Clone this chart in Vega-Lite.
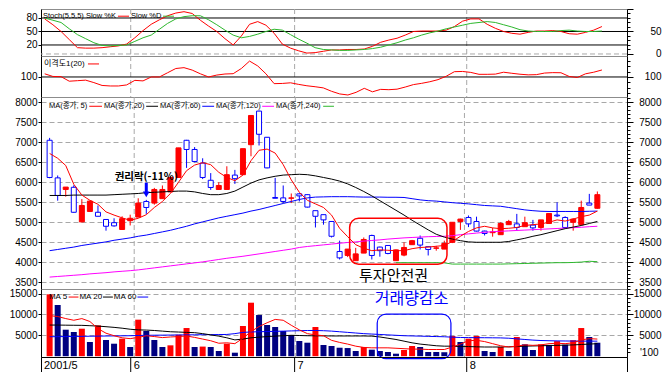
{
"$schema": "https://vega.github.io/schema/vega-lite/v6.json",
"autosize": {"type": "pad"},
"padding": {"left": 0, "top": 3, "right": 0, "bottom": 0},
"spacing": 0,
"bounds": "flush",
"background": "#ffffff",
"config": {
  "view": {"stroke": "#8c8c8c", "strokeWidth": 1},
  "axis": {"labelFont": "Liberation Sans", "labelFontSize": 10, "labelColor": "#000000", "domainColor": "#000000", "tickColor": "#000000", "title": null, "grid": false, "labelOverlap": false, "labelFlush": false, "minExtent": 40, "maxExtent": 40},
  "text": {"font": "Liberation Sans, Noto Sans CJK KR", "fontSize": 8, "color": "#000000"},
  "line": {"strokeWidth": 1},
  "rule": {"strokeWidth": 1}
},
"datasets": {
  "months": [{"i": 10.5, "lab": "6"}, {"i": 30.5, "lab": "7"}, {"i": 51.5, "lab": "8"}],
  "xlab": [{"i": -0.45, "lab": "2001/5"}, {"i": 10.5, "lab": "6"}, {"i": 30.5, "lab": "7"}, {"i": 51.5, "lab": "8"}],
  "d": [
{"i":0,"date":"2001-05-17","o":7050,"h":7110,"l":6100,"c":6120,"m5":6720,"m20":5670,"m60":4290,"m120":3630,"v":14800,"vd":"up","vm5":9700,"vm20":7450,"vm60":4650,"k":78,"dd":80,"dp":103},
{"i":1,"date":"2001-05-18","o":6110,"h":6170,"l":5540,"c":5670,"m5":6600,"m20":5670,"m60":4320,"m120":3645,"v":12250,"vd":"down","vm5":9500,"vm20":7450,"vm60":4680,"k":65,"dd":75,"dp":100.5},
{"i":2,"date":"2001-05-21","o":5820,"h":5880,"l":5640,"c":5880,"m5":6420,"m20":5670,"m60":4350,"m120":3660,"v":6340,"vd":"down","vm5":9000,"vm20":7420,"vm60":4700,"k":50,"dd":70,"dp":100.3},
{"i":3,"date":"2001-05-22","o":5875,"h":5925,"l":5240,"c":5250,"m5":5950,"m20":5680,"m60":4380,"m120":3675,"v":5790,"vd":"down","vm5":8600,"vm20":7400,"vm60":4730,"k":32,"dd":56,"dp":96},
{"i":4,"date":"2001-05-23","o":5010,"h":5580,"l":5000,"c":5420,"m5":5680,"m20":5680,"m60":4420,"m120":3690,"v":6580,"vd":"up","vm5":9000,"vm20":7380,"vm60":4750,"k":14,"dd":43,"dp":96.5},
{"i":5,"date":"2001-05-24","o":5270,"h":5540,"l":5260,"c":5530,"m5":5550,"m20":5680,"m60":4450,"m120":3710,"v":3400,"vd":"down","vm5":8300,"vm20":7300,"vm60":4780,"k":13,"dd":34,"dp":97},
{"i":6,"date":"2001-05-25","o":5250,"h":5420,"l":5150,"c":5150,"m5":5450,"m20":5680,"m60":4480,"m120":3725,"v":7380,"vd":"up","vm5":6600,"vm20":7200,"vm60":4800,"k":13,"dd":25,"dp":94.7},
{"i":7,"date":"2001-05-28","o":5070,"h":5070,"l":4790,"c":4900,"m5":5260,"m20":5680,"m60":4510,"m120":3740,"v":3870,"vd":"down","vm5":5500,"vm20":7060,"vm60":4830,"k":14,"dd":19,"dp":92},
{"i":8,"date":"2001-05-29","o":4990,"h":5100,"l":4890,"c":4910,"m5":5180,"m20":5690,"m60":4550,"m120":3760,"v":2990,"vd":"down","vm5":4900,"vm20":6900,"vm60":4850,"k":16,"dd":18,"dp":91.5},
{"i":9,"date":"2001-05-30","o":4820,"h":5150,"l":4810,"c":5090,"m5":5110,"m20":5700,"m60":4580,"m120":3775,"v":4190,"vd":"up","vm5":4400,"vm20":6700,"vm60":4880,"k":18,"dd":19,"dp":91.5},
{"i":10,"date":"2001-05-31","o":5040,"h":5190,"l":4920,"c":5100,"m5":5050,"m20":5710,"m60":4610,"m120":3790,"v":2200,"vd":"down","vm5":4200,"vm20":6450,"vm60":4900,"k":22,"dd":20,"dp":92.5},
{"i":11,"date":"2001-06-01","o":5130,"h":5600,"l":5130,"c":5480,"m5":5100,"m20":5720,"m60":4650,"m120":3810,"v":8740,"vd":"up","vm5":4500,"vm20":6300,"vm60":4950,"k":36,"dd":28,"dp":96.8},
{"i":12,"date":"2001-06-04","o":5520,"h":5560,"l":5210,"c":5370,"m5":5190,"m20":5740,"m60":4680,"m120":3835,"v":6030,"vd":"down","vm5":4900,"vm20":6250,"vm60":5000,"k":52,"dd":36,"dp":96.3},
{"i":13,"date":"2001-06-05","o":5480,"h":5860,"l":5440,"c":5820,"m5":5370,"m20":5750,"m60":4720,"m120":3860,"v":3870,"vd":"down","vm5":4700,"vm20":6150,"vm60":5020,"k":66,"dd":42,"dp":100},
{"i":14,"date":"2001-06-07","o":5590,"h":5920,"l":5590,"c":5820,"m5":5520,"m20":5760,"m60":4760,"m120":3885,"v":2200,"vd":"down","vm5":4450,"vm20":6000,"vm60":5040,"k":76,"dd":55,"dp":100},
{"i":15,"date":"2001-06-08","o":5760,"h":6150,"l":5750,"c":6120,"m5":5720,"m20":5770,"m60":4800,"m120":3910,"v":2600,"vd":"up","vm5":4600,"vm20":5850,"vm60":5060,"k":85,"dd":68,"dp":104},
{"i":16,"date":"2001-06-11","o":6120,"h":6860,"l":6120,"c":6860,"m5":6000,"m20":5780,"m60":4850,"m120":3935,"v":5140,"vd":"up","vm5":4700,"vm20":5780,"vm60":5080,"k":91,"dd":78,"dp":108},
{"i":17,"date":"2001-06-12","o":7050,"h":7060,"l":6360,"c":6820,"m5":6290,"m20":5780,"m60":4900,"m120":3960,"v":6740,"vd":"up","vm5":4840,"vm20":5700,"vm60":5100,"k":94,"dd":83,"dp":108.8},
{"i":18,"date":"2001-06-13","o":6820,"h":6880,"l":6500,"c":6520,"m5":6430,"m20":5760,"m60":4960,"m120":3985,"v":2200,"vd":"down","vm5":4500,"vm20":5630,"vm60":5120,"k":90,"dd":85,"dp":106.5},
{"i":19,"date":"2001-06-14","o":6480,"h":6600,"l":6080,"c":6120,"m5":6490,"m20":5720,"m60":5010,"m120":4010,"v":2300,"vd":"up","vm5":4100,"vm20":5400,"vm60":5140,"k":75,"dd":85,"dp":103},
{"i":20,"date":"2001-06-15","o":6050,"h":6230,"l":5810,"c":5870,"m5":6440,"m20":5690,"m60":5060,"m120":4040,"v":2200,"vd":"down","vm5":3700,"vm20":5100,"vm60":5160,"k":62,"dd":76,"dp":100},
{"i":21,"date":"2001-06-18","o":5820,"h":6000,"l":5820,"c":5920,"m5":6250,"m20":5690,"m60":5110,"m120":4070,"v":1240,"vd":"down","vm5":3100,"vm20":4800,"vm60":5180,"k":50,"dd":65,"dp":101.8},
{"i":22,"date":"2001-06-19","o":5820,"h":6400,"l":5820,"c":6190,"m5":6120,"m20":5720,"m60":5150,"m120":4100,"v":2990,"vd":"up","vm5":3200,"vm20":4400,"vm60":5200,"k":34,"dd":53,"dp":102.8},
{"i":23,"date":"2001-06-20","o":6180,"h":6310,"l":5960,"c":6090,"m5":6040,"m20":5780,"m60":5190,"m120":4125,"v":840,"vd":"down","vm5":3000,"vm20":3900,"vm60":5400,"k":20,"dd":42,"dp":103.1},
{"i":24,"date":"2001-06-21","o":6190,"h":6840,"l":6190,"c":6840,"m5":6180,"m20":5880,"m60":5230,"m120":4150,"v":7220,"vd":"up","vm5":4300,"vm20":4100,"vm60":5700,"k":40,"dd":36,"dp":108},
{"i":25,"date":"2001-06-22","o":6940,"h":7670,"l":6650,"c":7670,"m5":6540,"m20":5980,"m60":5280,"m120":4180,"v":12800,"vd":"up","vm5":5900,"vm20":4400,"vm60":5800,"k":66,"dd":39,"dp":115},
{"i":26,"date":"2001-06-25","o":7780,"h":7790,"l":6920,"c":7200,"m5":6800,"m20":6060,"m60":5320,"m120":4210,"v":9850,"vd":"down","vm5":7100,"vm20":4550,"vm60":5850,"k":72,"dd":44,"dp":110.4},
{"i":27,"date":"2001-06-26","o":7125,"h":7130,"l":6350,"c":6360,"m5":6830,"m20":6110,"m60":5370,"m120":4240,"v":7460,"vd":"down","vm5":8000,"vm20":4700,"vm60":5900,"k":64,"dd":50,"dp":103},
{"i":28,"date":"2001-06-27","o":5620,"h":6110,"l":5600,"c":5600,"m5":6730,"m20":6150,"m60":5420,"m120":4270,"v":6980,"vd":"down","vm5":8800,"vm20":4800,"vm60":5950,"k":46,"dd":55,"dp":93.7},
{"i":29,"date":"2001-06-28","o":5610,"h":5920,"l":5480,"c":5520,"m5":6440,"m20":6180,"m60":5470,"m120":4300,"v":6030,"vd":"down","vm5":8600,"vm20":4900,"vm60":6000,"k":22,"dd":53,"dp":93.9},
{"i":30,"date":"2001-06-29","o":5600,"h":5720,"l":5480,"c":5610,"m5":6060,"m20":6190,"m60":5520,"m120":4330,"v":5070,"vd":"down","vm5":7400,"vm20":5000,"vm60":6050,"k":13,"dd":43,"dp":94.5},
{"i":31,"date":"2001-07-02","o":5710,"h":5730,"l":5520,"c":5660,"m5":5750,"m20":6200,"m60":5570,"m120":4370,"v":3640,"vd":"down","vm5":6300,"vm20":4950,"vm60":6100,"k":7,"dd":33,"dp":93},
{"i":32,"date":"2001-07-03","o":5690,"h":5700,"l":5370,"c":5380,"m5":5550,"m20":6190,"m60":5610,"m120":4395,"v":3230,"vd":"down","vm5":5400,"vm20":4900,"vm60":6150,"k":2,"dd":24,"dp":91.7},
{"i":33,"date":"2001-07-04","o":5290,"h":5290,"l":4870,"c":5150,"m5":5460,"m20":6160,"m60":5630,"m120":4415,"v":6980,"vd":"up","vm5":5100,"vm20":4880,"vm60":6150,"k":3,"dd":14,"dp":90.8},
{"i":34,"date":"2001-07-05","o":5190,"h":5190,"l":4940,"c":5060,"m5":5370,"m20":6120,"m60":5635,"m120":4435,"v":2680,"vd":"down","vm5":4900,"vm20":4860,"vm60":6100,"k":6,"dd":10,"dp":89.7},
{"i":35,"date":"2001-07-06","o":5020,"h":5020,"l":4620,"c":4650,"m5":5180,"m20":6080,"m60":5640,"m120":4455,"v":2440,"vd":"down","vm5":3800,"vm20":4840,"vm60":6000,"k":9,"dd":9,"dp":86.5},
{"i":36,"date":"2001-07-09","o":4270,"h":4540,"l":4070,"c":4110,"m5":4850,"m20":6030,"m60":5640,"m120":4475,"v":2030,"vd":"down","vm5":3300,"vm20":4840,"vm60":5850,"k":9,"dd":8,"dp":84},
{"i":37,"date":"2001-07-10","o":4170,"h":4330,"l":4130,"c":4330,"m5":4640,"m20":5960,"m60":5640,"m120":4495,"v":1950,"vd":"down","vm5":2900,"vm20":4840,"vm60":5700,"k":10,"dd":8,"dp":83},
{"i":38,"date":"2001-07-11","o":4040,"h":4360,"l":4040,"c":4210,"m5":4440,"m20":5870,"m60":5635,"m120":4510,"v":1240,"vd":"down","vm5":2400,"vm20":4840,"vm60":5550,"k":10,"dd":9,"dp":85.5},
{"i":39,"date":"2001-07-12","o":4230,"h":4620,"l":4230,"c":4570,"m5":4350,"m20":5770,"m60":5630,"m120":4530,"v":2200,"vd":"up","vm5":2100,"vm20":4840,"vm60":5400,"k":11,"dd":10,"dp":89.3},
{"i":40,"date":"2001-07-13","o":4670,"h":4690,"l":4070,"c":4170,"m5":4290,"m20":5660,"m60":5630,"m120":4545,"v":1560,"vd":"down","vm5":2000,"vm20":4800,"vm60":5300,"k":17,"dd":12,"dp":86},
{"i":41,"date":"2001-07-16","o":4380,"h":4390,"l":4140,"c":4290,"m5":4310,"m20":5540,"m60":5630,"m120":4560,"v":1240,"vd":"down","vm5":2000,"vm20":4600,"vm60":5200,"k":26,"dd":15,"dp":88.3},
{"i":42,"date":"2001-07-18","o":4420,"h":4420,"l":4200,"c":4220,"m5":4300,"m20":5420,"m60":5625,"m120":4580,"v":1000,"vd":"down","vm5":2000,"vm20":4300,"vm60":5100,"k":31,"dd":20,"dp":88},
{"i":43,"date":"2001-07-19","o":4040,"h":4320,"l":4040,"c":4310,"m5":4290,"m20":5300,"m60":5625,"m120":4595,"m240":3990,"v":600,"vd":"down","vm5":1900,"vm20":4000,"vm60":5000,"k":35,"dd":25,"dp":88.5},
{"i":44,"date":"2001-07-20","o":4180,"h":4500,"l":4150,"c":4370,"m5":4290,"m20":5180,"m60":5620,"m120":4610,"m240":3990,"v":1480,"vd":"up","vm5":1800,"vm20":3600,"vm60":4900,"k":42,"dd":31,"dp":90.5},
{"i":45,"date":"2001-07-23","o":4440,"h":4560,"l":4440,"c":4540,"m5":4340,"m20":5050,"m60":5590,"m120":4620,"m240":3990,"v":2440,"vd":"up","vm5":1700,"vm20":3200,"vm60":4850,"k":50,"dd":36,"dp":92.8},
{"i":46,"date":"2001-07-24","o":4600,"h":4670,"l":4320,"c":4430,"m5":4370,"m20":4930,"m60":5560,"m120":4630,"m240":3990,"v":2200,"vd":"down","vm5":1700,"vm20":2900,"vm60":4800,"k":51,"dd":42,"dp":94},
{"i":47,"date":"2001-07-25","o":4390,"h":4390,"l":4170,"c":4320,"m5":4380,"m20":4810,"m60":5540,"m120":4640,"m240":3990,"v":1000,"vd":"down","vm5":1600,"vm20":2700,"vm60":4750,"k":51,"dd":47,"dp":95.5},
{"i":48,"date":"2001-07-26","o":4350,"h":4410,"l":4290,"c":4360,"m5":4400,"m20":4700,"m60":5530,"m120":4645,"m240":3990,"v":1000,"vd":"down","vm5":1600,"vm20":2500,"vm60":4700,"k":51,"dd":51,"dp":97.5},
{"i":49,"date":"2001-07-27","o":4330,"h":4540,"l":4330,"c":4470,"m5":4420,"m20":4630,"m60":5510,"m120":4650,"m240":3985,"v":950,"vd":"down","vm5":1600,"vm20":2400,"vm60":4650,"k":53,"dd":56,"dp":100.7},
{"i":50,"date":"2001-07-30","o":4500,"h":5000,"l":4480,"c":5000,"m5":4520,"m20":4580,"m60":5490,"m120":4665,"m240":3955,"v":4830,"vd":"up","vm5":2200,"vm20":2400,"vm60":4550,"k":61,"dd":60,"dp":105},
{"i":51,"date":"2001-07-31","o":5020,"h":5090,"l":4810,"c":5080,"m5":4650,"m20":4540,"m60":5475,"m120":4690,"m240":3955,"v":3400,"vd":"down","vm5":2900,"vm20":2300,"vm60":4480,"k":73,"dd":64,"dp":105.2},
{"i":52,"date":"2001-08-01","o":5120,"h":5170,"l":4880,"c":4960,"m5":4770,"m20":4510,"m60":5460,"m120":4710,"m240":3955,"v":4190,"vd":"up","vm5":3700,"vm20":2300,"vm60":4450,"k":78,"dd":68,"dp":104.3},
{"i":53,"date":"2001-08-02","o":5020,"h":5140,"l":4770,"c":4780,"m5":4860,"m20":4500,"m60":5440,"m120":4730,"m240":3955,"v":4830,"vd":"up","vm5":3800,"vm20":2250,"vm60":4430,"k":78,"dd":70,"dp":102.5},
{"i":54,"date":"2001-08-03","o":4780,"h":4790,"l":4670,"c":4720,"m5":4900,"m20":4500,"m60":5420,"m120":4750,"m240":3955,"v":1240,"vd":"down","vm5":3500,"vm20":2200,"vm60":4420,"k":66,"dd":72,"dp":102.5},
{"i":55,"date":"2001-08-06","o":4740,"h":4860,"l":4640,"c":4760,"m5":4860,"m20":4500,"m60":5410,"m120":4765,"m240":3955,"v":1000,"vd":"down","vm5":3000,"vm20":2200,"vm60":4400,"k":57,"dd":70,"dp":102.7},
{"i":56,"date":"2001-08-07","o":4690,"h":5000,"l":4690,"c":4970,"m5":4840,"m20":4500,"m60":5400,"m120":4775,"m240":3955,"v":2200,"vd":"up","vm5":2500,"vm20":2200,"vm60":4380,"k":50,"dd":65,"dp":104.5},
{"i":57,"date":"2001-08-08","o":4940,"h":5060,"l":4940,"c":5020,"m5":4850,"m20":4520,"m60":5370,"m120":4785,"m240":3960,"v":1240,"vd":"down","vm5":2200,"vm20":2250,"vm60":4300,"k":46,"dd":60,"dp":103.5},
{"i":58,"date":"2001-08-09","o":4960,"h":5210,"l":4790,"c":4870,"m5":4870,"m20":4560,"m60":5340,"m120":4795,"m240":3965,"v":4590,"vd":"up","vm5":2400,"vm20":2300,"vm60":4150,"k":44,"dd":54,"dp":102.6},
{"i":59,"date":"2001-08-10","o":4890,"h":5140,"l":4890,"c":4990,"m5":4920,"m20":4600,"m60":5310,"m120":4805,"m240":3970,"v":2840,"vd":"down","vm5":2700,"vm20":2400,"vm60":4000,"k":48,"dd":51,"dp":102},
{"i":60,"date":"2001-08-13","o":4930,"h":5060,"l":4790,"c":4860,"m5":4940,"m20":4650,"m60":5290,"m120":4815,"m240":3975,"v":1480,"vd":"down","vm5":2600,"vm20":2450,"vm60":3850,"k":51,"dd":50,"dp":102.2},
{"i":61,"date":"2001-08-14","o":4870,"h":5060,"l":4790,"c":5060,"m5":4960,"m20":4690,"m60":5275,"m120":4825,"m240":3980,"v":2840,"vd":"up","vm5":2700,"vm20":2500,"vm60":3750,"k":51,"dd":50,"dp":103.7},
{"i":62,"date":"2001-08-16","o":4970,"h":5230,"l":4970,"c":5220,"m5":5000,"m20":4740,"m60":5270,"m120":4835,"m240":3985,"v":2700,"vd":"down","vm5":3000,"vm20":2550,"vm60":3700,"k":52,"dd":50,"dp":104.1},
{"i":63,"date":"2001-08-17","o":5180,"h":5500,"l":5130,"c":5160,"m5":5060,"m20":4790,"m60":5270,"m120":4845,"m240":3990,"v":3600,"vd":"up","vm5":3100,"vm20":2600,"vm60":3660,"k":50,"dd":52,"dp":104},
{"i":64,"date":"2001-08-20","o":5120,"h":5150,"l":4870,"c":4870,"m5":5030,"m20":4840,"m60":5270,"m120":4855,"m240":3990,"v":2760,"vd":"down","vm5":3000,"vm20":2650,"vm60":3640,"k":45,"dd":53,"dp":100.5},
{"i":65,"date":"2001-08-21","o":5000,"h":5100,"l":4790,"c":5080,"m5":5080,"m20":4880,"m60":5270,"m120":4865,"m240":3995,"v":3830,"vd":"up","vm5":3200,"vm20":2700,"vm60":3620,"k":44,"dd":51,"dp":99.5},
{"i":66,"date":"2001-08-22","o":4940,"h":5540,"l":4920,"c":5370,"m5":5140,"m20":4920,"m60":5270,"m120":4875,"m240":4005,"v":6740,"vd":"up","vm5":3900,"vm20":2800,"vm60":3610,"k":48,"dd":50,"dp":103},
{"i":67,"date":"2001-08-23","o":5480,"h":5710,"l":5430,"c":5430,"m5":5180,"m20":4970,"m60":5275,"m120":4890,"m240":4025,"v":4590,"vd":"down","vm5":4200,"vm20":2900,"vm60":3600,"k":53,"dd":50,"dp":104.5},
{"i":68,"date":"2001-08-24","o":5350,"h":5770,"l":5340,"c":5690,"m5":5280,"m20":5020,"m60":5280,"m120":4900,"m240":4015,"v":3230,"vd":"down","vm5":4100,"vm20":3000,"vm60":3600,"k":61,"dd":51,"dp":106.6}
  ]
},
"vconcat": [
{
 "width": 586, "height": 47,
 "resolve": {"axis": {"y": "independent"}},
 "layer": [
  {"data": {"name": "months"}, "mark": {"type": "rule", "color": "#a8a8a8", "strokeDash": [5, 3]}, "encoding": {"x": {"field": "i", "type": "quantitative", "scale": {"domain": [-0.45, 71.06], "nice": false, "zero": false}, "axis": null}}},
  {"data": {"values": [{"v": 80}, {"v": 50}, {"v": 20}]}, "mark": {"type": "rule", "color": "#000000"}, "encoding": {"y": {"field": "v", "type": "quantitative", "scale": {"domain": [-4.5, 100], "nice": false, "zero": false}, "axis": null}}},
  {"data": {"values": [{"v": 0}]}, "mark": {"type": "rule", "color": "#a8a8a8", "strokeDash": [5, 3]}, "encoding": {"y": {"field": "v", "type": "quantitative", "scale": {"domain": [-4.5, 100], "nice": false, "zero": false}, "axis": null}}},
  {"data": {"name": "d"}, "mark": {"type": "line", "color": "#ff0000"}, "encoding": {"x": {"field": "i", "type": "quantitative", "scale": {"domain": [-0.45, 71.06], "nice": false, "zero": false}, "axis": null}, "y": {"field": "k", "type": "quantitative", "scale": {"domain": [-4.5, 100], "nice": false, "zero": false}, "axis": {"orient": "left", "values": [20, 50, 80], "format": "d", "tickSize": 3, "labelPadding": 1}}}},
  {"data": {"name": "d"}, "mark": {"type": "line", "color": "#2db82d"}, "encoding": {"x": {"field": "i", "type": "quantitative", "scale": {"domain": [-0.45, 71.06], "nice": false, "zero": false}, "axis": null}, "y": {"field": "dd", "type": "quantitative", "scale": {"domain": [-4.5, 100], "nice": false, "zero": false}, "axis": {"orient": "right", "values": [0, 10, 20, 30, 40, 50, 60, 70, 80, 90, 100], "format": "d", "labelExpr": "datum.value == 0 || datum.value == 50 ? datum.label : ''", "tickSize": {"condition": {"test": "datum.value % 50 == 0", "value": 6}, "value": 3}, "labelAlign": "right", "labelPadding": 28}}}},
  {"data": {"values": [{"t": "Stoch(5,5,5) Slow %K", "i": -0.21, "v": 84}, {"t": "Slow %D", "i": 10.53, "v": 84}]}, "mark": {"type": "text", "align": "left", "baseline": "middle", "fontSize": 7.5}, "encoding": {"x": {"field": "i", "type": "quantitative", "scale": {"domain": [-0.45, 71.06], "nice": false, "zero": false}, "axis": null}, "y": {"field": "v", "type": "quantitative", "scale": {"domain": [-4.5, 100], "nice": false, "zero": false}, "axis": null}, "text": {"field": "t"}}},
  {"data": {"values": [{"i": 8.94, "i2": 10.29, "v": 84}]}, "mark": {"type": "rule", "color": "#ff0000"}, "encoding": {"x": {"field": "i", "type": "quantitative", "scale": {"domain": [-0.45, 71.06], "nice": false, "zero": false}, "axis": null}, "x2": {"field": "i2"}, "y": {"field": "v", "type": "quantitative", "scale": {"domain": [-4.5, 100], "nice": false, "zero": false}, "axis": null}}},
  {"data": {"values": [{"i": 14.44, "i2": 15.78, "v": 84}]}, "mark": {"type": "rule", "color": "#2db82d"}, "encoding": {"x": {"field": "i", "type": "quantitative", "scale": {"domain": [-0.45, 71.06], "nice": false, "zero": false}, "axis": null}, "x2": {"field": "i2"}, "y": {"field": "v", "type": "quantitative", "scale": {"domain": [-4.5, 100], "nice": false, "zero": false}, "axis": null}}}
 ]
},
{
 "width": 586, "height": 41,
 "resolve": {"axis": {"y": "independent"}},
 "layer": [
  {"data": {"name": "months"}, "mark": {"type": "rule", "color": "#a8a8a8", "strokeDash": [5, 3]}, "encoding": {"x": {"field": "i", "type": "quantitative", "scale": {"domain": [-0.45, 71.06], "nice": false, "zero": false}, "axis": null}}},
  {"data": {"values": [{"v": 100}]}, "mark": {"type": "rule", "color": "#000000"}, "encoding": {"y": {"field": "v", "type": "quantitative", "scale": {"domain": [81.1, 119.8], "nice": false, "zero": false}, "axis": {"orient": "right", "values": [85, 90, 95, 100, 105, 110, 115], "format": "d", "labelExpr": "datum.value == 100 ? datum.label : ''", "tickSize": {"condition": {"test": "datum.value == 100", "value": 6}, "value": 3}, "labelAlign": "right", "labelPadding": 28}}}},
  {"data": {"name": "d"}, "mark": {"type": "line", "color": "#ff0000"}, "encoding": {"x": {"field": "i", "type": "quantitative", "scale": {"domain": [-0.45, 71.06], "nice": false, "zero": false}, "axis": null}, "y": {"field": "dp", "type": "quantitative", "scale": {"domain": [81.1, 119.8], "nice": false, "zero": false}, "axis": {"orient": "left", "values": [100], "format": "d", "tickSize": 3, "labelPadding": 1}}}},
  {"data": {"values": [{"t": "이격도1(20)", "i": -0.09, "v": 112.3}]}, "mark": {"type": "text", "align": "left", "baseline": "middle"}, "encoding": {"x": {"field": "i", "type": "quantitative", "scale": {"domain": [-0.45, 71.06], "nice": false, "zero": false}, "axis": null}, "y": {"field": "v", "type": "quantitative", "scale": {"domain": [81.1, 119.8], "nice": false, "zero": false}, "axis": null}, "text": {"field": "t"}}},
  {"data": {"values": [{"i": 5.28, "i2": 6.63, "v": 112.3}]}, "mark": {"type": "rule", "color": "#ff0000"}, "encoding": {"x": {"field": "i", "type": "quantitative", "scale": {"domain": [-0.45, 71.06], "nice": false, "zero": false}, "axis": null}, "x2": {"field": "i2"}, "y": {"field": "v", "type": "quantitative", "scale": {"domain": [81.1, 119.8], "nice": false, "zero": false}, "axis": null}}}
 ]
},
{
 "width": 586, "height": 192,
 "resolve": {"axis": {"y": "independent"}},
 "layer": [
  {"data": {"name": "months"}, "mark": {"type": "rule", "color": "#a8a8a8", "strokeDash": [5, 3]}, "encoding": {"x": {"field": "i", "type": "quantitative", "scale": {"domain": [-0.45, 71.06], "nice": false, "zero": false}, "axis": null}}},
  {"data": {"name": "d"}, "mark": {"type": "rule"}, "encoding": {"x": {"field": "i", "type": "quantitative", "scale": {"domain": [-0.45, 71.06], "nice": false, "zero": false}, "axis": null}, "y": {"field": "l", "type": "quantitative", "scale": {"domain": [3332, 8132], "nice": false, "zero": false}, "axis": {"orient": "left", "values": [3500, 4000, 4500, 5000, 5500, 6000, 6500, 7000, 7500, 8000], "format": "d", "tickSize": 3, "labelPadding": 1, "grid": true, "gridDash": [5, 3], "gridColor": "#a8a8a8"}}, "y2": {"field": "h"}, "color": {"condition": {"test": "datum.c > datum.o", "value": "#ff0000"}, "value": "#0000ff"}}},
  {"data": {"name": "d"}, "mark": {"type": "bar", "size": 5, "strokeWidth": 1}, "encoding": {"x": {"field": "i", "type": "quantitative", "scale": {"domain": [-0.45, 71.06], "nice": false, "zero": false}, "axis": null}, "y": {"field": "o", "type": "quantitative", "scale": {"domain": [3332, 8132], "nice": false, "zero": false}, "axis": {"orient": "right", "values": [3400, 3500, 3600, 3700, 3800, 3900, 4000, 4100, 4200, 4300, 4400, 4500, 4600, 4700, 4800, 4900, 5000, 5100, 5200, 5300, 5400, 5500, 5600, 5700, 5800, 5900, 6000, 6100, 6200, 6300, 6400, 6500, 6600, 6700, 6800, 6900, 7000, 7100, 7200, 7300, 7400, 7500, 7600, 7700, 7800, 7900, 8000, 8100], "format": "d", "labelExpr": "datum.value % 500 == 0 ? datum.label : ''", "tickSize": {"condition": {"test": "datum.value % 500 == 0", "value": 6}, "value": 3}, "labelAlign": "right", "labelPadding": 28}}, "y2": {"field": "c"}, "fill": {"condition": {"test": "datum.c > datum.o", "value": "#ff0000"}, "value": "#ffffff"}, "stroke": {"condition": {"test": "datum.c > datum.o", "value": "#ff0000"}, "value": "#0000ff"}}},
  {"data": {"name": "d"}, "mark": {"type": "line", "color": "#2db82d"}, "encoding": {"x": {"field": "i", "type": "quantitative", "scale": {"domain": [-0.45, 71.06], "nice": false, "zero": false}, "axis": null}, "y": {"field": "m240", "type": "quantitative", "scale": {"domain": [3332, 8132], "nice": false, "zero": false}, "axis": null}}},
  {"data": {"name": "d"}, "mark": {"type": "line", "color": "#ff00ff"}, "encoding": {"x": {"field": "i", "type": "quantitative", "scale": {"domain": [-0.45, 71.06], "nice": false, "zero": false}, "axis": null}, "y": {"field": "m120", "type": "quantitative", "scale": {"domain": [3332, 8132], "nice": false, "zero": false}, "axis": null}}},
  {"data": {"name": "d"}, "mark": {"type": "line", "color": "#0000ff"}, "encoding": {"x": {"field": "i", "type": "quantitative", "scale": {"domain": [-0.45, 71.06], "nice": false, "zero": false}, "axis": null}, "y": {"field": "m60", "type": "quantitative", "scale": {"domain": [3332, 8132], "nice": false, "zero": false}, "axis": null}}},
  {"data": {"name": "d"}, "mark": {"type": "line", "color": "#000000"}, "encoding": {"x": {"field": "i", "type": "quantitative", "scale": {"domain": [-0.45, 71.06], "nice": false, "zero": false}, "axis": null}, "y": {"field": "m20", "type": "quantitative", "scale": {"domain": [3332, 8132], "nice": false, "zero": false}, "axis": null}}},
  {"data": {"name": "d"}, "mark": {"type": "line", "color": "#ff0000"}, "encoding": {"x": {"field": "i", "type": "quantitative", "scale": {"domain": [-0.45, 71.06], "nice": false, "zero": false}, "axis": null}, "y": {"field": "m5", "type": "quantitative", "scale": {"domain": [3332, 8132], "nice": false, "zero": false}, "axis": null}}},
  {"data": {"values": [{"i": 12, "v1": 5990, "v2": 5740}]}, "mark": {"type": "rule", "color": "#0000ff", "strokeWidth": 3}, "encoding": {"x": {"field": "i", "type": "quantitative", "scale": {"domain": [-0.45, 71.06], "nice": false, "zero": false}, "axis": null}, "y": {"field": "v1", "type": "quantitative", "scale": {"domain": [3332, 8132], "nice": false, "zero": false}, "axis": null}, "y2": {"field": "v2"}}},
  {"data": {"values": [{"i": 12, "v": 5700}]}, "mark": {"type": "point", "shape": "triangle-down", "filled": true, "color": "#0000ff", "size": 45, "opacity": 1}, "encoding": {"x": {"field": "i", "type": "quantitative", "scale": {"domain": [-0.45, 71.06], "nice": false, "zero": false}, "axis": null}, "y": {"field": "v", "type": "quantitative", "scale": {"domain": [3332, 8132], "nice": false, "zero": false}, "axis": null}}},
  {"data": {"values": [{"t": "권리락(-11%)", "i": 12.0, "v": 6140}]}, "mark": {"type": "text", "align": "center", "baseline": "middle", "font": "Noto Sans CJK KR", "fontSize": 10.5, "fontWeight": "bold"}, "encoding": {"x": {"field": "i", "type": "quantitative", "scale": {"domain": [-0.45, 71.06], "nice": false, "zero": false}, "axis": null}, "y": {"field": "v", "type": "quantitative", "scale": {"domain": [3332, 8132], "nice": false, "zero": false}, "axis": null}, "text": {"field": "t"}}},
  {"data": {"values": [{"i": 37.25, "i2": 49.33, "v": 5100, "v2": 3950}]}, "mark": {"type": "rect", "fill": "#ffffff", "fillOpacity": 0, "stroke": "#ff0000", "strokeWidth": 1.5, "cornerRadius": 9}, "encoding": {"x": {"field": "i", "type": "quantitative", "scale": {"domain": [-0.45, 71.06], "nice": false, "zero": false}, "axis": null}, "x2": {"field": "i2"}, "y": {"field": "v", "type": "quantitative", "scale": {"domain": [3332, 8132], "nice": false, "zero": false}, "axis": null}, "y2": {"field": "v2"}}},
  {"data": {"values": [{"t": "투자안전권", "i": 42.7, "v": 3657}]}, "mark": {"type": "text", "align": "center", "baseline": "middle", "font": "Noto Sans CJK KR", "fontSize": 15}, "encoding": {"x": {"field": "i", "type": "quantitative", "scale": {"domain": [-0.45, 71.06], "nice": false, "zero": false}, "axis": null}, "y": {"field": "v", "type": "quantitative", "scale": {"domain": [3332, 8132], "nice": false, "zero": false}, "axis": null}, "text": {"field": "t"}}},
  {"data": {"values": [{"t": "MA(종가, 5)", "i": -0.09, "v": 7900}, {"t": "MA(종가,20)", "i": 6.75, "v": 7900}, {"t": "MA(종가,60)", "i": 13.71, "v": 7900}, {"t": "MA(종가,120)", "i": 20.66, "v": 7900}, {"t": "MA(종가,240)", "i": 28.1, "v": 7900}]}, "mark": {"type": "text", "align": "left", "baseline": "middle", "fontSize": 7.5}, "encoding": {"x": {"field": "i", "type": "quantitative", "scale": {"domain": [-0.45, 71.06], "nice": false, "zero": false}, "axis": null}, "y": {"field": "v", "type": "quantitative", "scale": {"domain": [3332, 8132], "nice": false, "zero": false}, "axis": null}, "text": {"field": "t"}}},
  {"data": {"values": [{"i": 4.92, "i2": 6.5, "v": 7900}]}, "mark": {"type": "rule", "color": "#ff0000"}, "encoding": {"x": {"field": "i", "type": "quantitative", "scale": {"domain": [-0.45, 71.06], "nice": false, "zero": false}, "axis": null}, "x2": {"field": "i2"}, "y": {"field": "v", "type": "quantitative", "scale": {"domain": [3332, 8132], "nice": false, "zero": false}, "axis": null}}},
  {"data": {"values": [{"i": 11.99, "i2": 13.46, "v": 7900}]}, "mark": {"type": "rule", "color": "#000000"}, "encoding": {"x": {"field": "i", "type": "quantitative", "scale": {"domain": [-0.45, 71.06], "nice": false, "zero": false}, "axis": null}, "x2": {"field": "i2"}, "y": {"field": "v", "type": "quantitative", "scale": {"domain": [3332, 8132], "nice": false, "zero": false}, "axis": null}}},
  {"data": {"values": [{"i": 18.95, "i2": 20.42, "v": 7900}]}, "mark": {"type": "rule", "color": "#0000ff"}, "encoding": {"x": {"field": "i", "type": "quantitative", "scale": {"domain": [-0.45, 71.06], "nice": false, "zero": false}, "axis": null}, "x2": {"field": "i2"}, "y": {"field": "v", "type": "quantitative", "scale": {"domain": [3332, 8132], "nice": false, "zero": false}, "axis": null}}},
  {"data": {"values": [{"i": 26.39, "i2": 27.86, "v": 7900}]}, "mark": {"type": "rule", "color": "#ff00ff"}, "encoding": {"x": {"field": "i", "type": "quantitative", "scale": {"domain": [-0.45, 71.06], "nice": false, "zero": false}, "axis": null}, "x2": {"field": "i2"}, "y": {"field": "v", "type": "quantitative", "scale": {"domain": [3332, 8132], "nice": false, "zero": false}, "axis": null}}},
  {"data": {"values": [{"i": 33.96, "i2": 35.3, "v": 7900}]}, "mark": {"type": "rule", "color": "#2db82d"}, "encoding": {"x": {"field": "i", "type": "quantitative", "scale": {"domain": [-0.45, 71.06], "nice": false, "zero": false}, "axis": null}, "x2": {"field": "i2"}, "y": {"field": "v", "type": "quantitative", "scale": {"domain": [3332, 8132], "nice": false, "zero": false}, "axis": null}}}
 ]
},
{
 "width": 586, "height": 68,
 "resolve": {"axis": {"y": "independent"}},
 "layer": [
  {"data": {"name": "months"}, "mark": {"type": "rule", "color": "#a8a8a8", "strokeDash": [5, 3]}, "encoding": {"x": {"field": "i", "type": "quantitative", "scale": {"domain": [-0.45, 71.06], "nice": false, "zero": false}, "axis": null}}},
  {"data": {"name": "d"}, "mark": {"type": "bar", "size": 6}, "encoding": {"x": {"field": "i", "type": "quantitative", "scale": {"domain": [-0.45, 71.06], "nice": false, "zero": false}, "axis": null}, "y": {"field": "v", "type": "quantitative", "scale": {"domain": [-191, 16077], "nice": false, "zero": false}, "axis": {"orient": "left", "values": [5000, 10000, 15000], "format": "d", "tickSize": 3, "labelPadding": 1, "grid": true, "gridDash": [5, 3], "gridColor": "#a8a8a8"}}, "y2": {"datum": 0}, "color": {"field": "vd", "type": "nominal", "scale": {"domain": ["up", "down"], "range": ["#ff0000", "#000080"]}, "legend": null}}},
  {"data": {"name": "d"}, "mark": {"type": "line", "color": "#0000ff"}, "encoding": {"x": {"field": "i", "type": "quantitative", "scale": {"domain": [-0.45, 71.06], "nice": false, "zero": false}, "axis": null}, "y": {"field": "vm60", "type": "quantitative", "scale": {"domain": [-191, 16077], "nice": false, "zero": false}, "axis": null}}},
  {"data": {"name": "d"}, "mark": {"type": "line", "color": "#000000"}, "encoding": {"x": {"field": "i", "type": "quantitative", "scale": {"domain": [-0.45, 71.06], "nice": false, "zero": false}, "axis": null}, "y": {"field": "vm20", "type": "quantitative", "scale": {"domain": [-191, 16077], "nice": false, "zero": false}, "axis": null}}},
  {"data": {"name": "d"}, "mark": {"type": "line", "color": "#ff0000"}, "encoding": {"x": {"field": "i", "type": "quantitative", "scale": {"domain": [-0.45, 71.06], "nice": false, "zero": false}, "axis": null}, "y": {"field": "vm5", "type": "quantitative", "scale": {"domain": [-191, 16077], "nice": false, "zero": false}, "axis": {"orient": "right", "values": [1000, 2000, 3000, 4000, 5000, 6000, 7000, 8000, 9000, 10000, 11000, 12000, 13000, 14000, 15000, 16000], "format": "d", "labelExpr": "datum.value == 1000 ? \"'100\" : (datum.value % 5000 == 0 ? datum.label : '')", "tickSize": {"condition": {"test": "datum.value % 5000 == 0", "value": 6}, "value": 3}, "labelAlign": "right", "labelPadding": 28}}}},
  {"data": {"values": [{"i": 40.67, "i2": 49.82, "v": 10090, "v2": -600}]}, "mark": {"type": "rect", "fill": "#ffffff", "fillOpacity": 0, "stroke": "#0000ff", "strokeWidth": 1.2, "cornerRadius": 9}, "encoding": {"x": {"field": "i", "type": "quantitative", "scale": {"domain": [-0.45, 71.06], "nice": false, "zero": false}, "axis": null}, "x2": {"field": "i2"}, "y": {"field": "v", "type": "quantitative", "scale": {"domain": [-191, 16077], "nice": false, "zero": false}, "axis": null}, "y2": {"field": "v2"}}},
  {"data": {"values": [{"t": "거래량감소", "i": 44.94, "v": 13600}]}, "mark": {"type": "text", "align": "center", "baseline": "middle", "font": "Noto Sans CJK KR", "fontSize": 16, "color": "#0000ff"}, "encoding": {"x": {"field": "i", "type": "quantitative", "scale": {"domain": [-0.45, 71.06], "nice": false, "zero": false}, "axis": null}, "y": {"field": "v", "type": "quantitative", "scale": {"domain": [-191, 16077], "nice": false, "zero": false}, "axis": null}, "text": {"field": "t"}}},
  {"data": {"values": [{"t": "MA 5", "i": -0.09, "v": 14150}, {"t": "MA 20", "i": 3.7, "v": 14150}, {"t": "MA 60", "i": 7.97, "v": 14150}]}, "mark": {"type": "text", "align": "left", "baseline": "middle"}, "encoding": {"x": {"field": "i", "type": "quantitative", "scale": {"domain": [-0.45, 71.06], "nice": false, "zero": false}, "axis": null}, "y": {"field": "v", "type": "quantitative", "scale": {"domain": [-191, 16077], "nice": false, "zero": false}, "axis": null}, "text": {"field": "t"}}},
  {"data": {"values": [{"i": 2.36, "i2": 3.58, "v": 14150}]}, "mark": {"type": "rule", "color": "#ff0000"}, "encoding": {"x": {"field": "i", "type": "quantitative", "scale": {"domain": [-0.45, 71.06], "nice": false, "zero": false}, "axis": null}, "x2": {"field": "i2"}, "y": {"field": "v", "type": "quantitative", "scale": {"domain": [-191, 16077], "nice": false, "zero": false}, "axis": null}}},
  {"data": {"values": [{"i": 6.63, "i2": 7.85, "v": 14150}]}, "mark": {"type": "rule", "color": "#000000"}, "encoding": {"x": {"field": "i", "type": "quantitative", "scale": {"domain": [-0.45, 71.06], "nice": false, "zero": false}, "axis": null}, "x2": {"field": "i2"}, "y": {"field": "v", "type": "quantitative", "scale": {"domain": [-191, 16077], "nice": false, "zero": false}, "axis": null}}},
  {"data": {"values": [{"i": 10.9, "i2": 12.24, "v": 14150}]}, "mark": {"type": "rule", "color": "#0000ff"}, "encoding": {"x": {"field": "i", "type": "quantitative", "scale": {"domain": [-0.45, 71.06], "nice": false, "zero": false}, "axis": null}, "x2": {"field": "i2"}, "y": {"field": "v", "type": "quantitative", "scale": {"domain": [-191, 16077], "nice": false, "zero": false}, "axis": null}}}
 ]
},
{
 "width": 586, "height": 18,
 "view": {"stroke": "#000000"},
 "layer": [
  {"data": {"name": "months"}, "mark": {"type": "rule", "color": "#000000"}, "encoding": {"x": {"field": "i", "type": "quantitative", "scale": {"domain": [-0.45, 71.06], "nice": false, "zero": false}, "axis": null}}},
  {"data": {"name": "xlab"}, "mark": {"type": "text", "align": "left", "baseline": "middle", "dx": 3, "fontSize": 11}, "encoding": {"x": {"field": "i", "type": "quantitative", "scale": {"domain": [-0.45, 71.06], "nice": false, "zero": false}, "axis": null}, "text": {"field": "lab"}}}
 ]
}
]
}
